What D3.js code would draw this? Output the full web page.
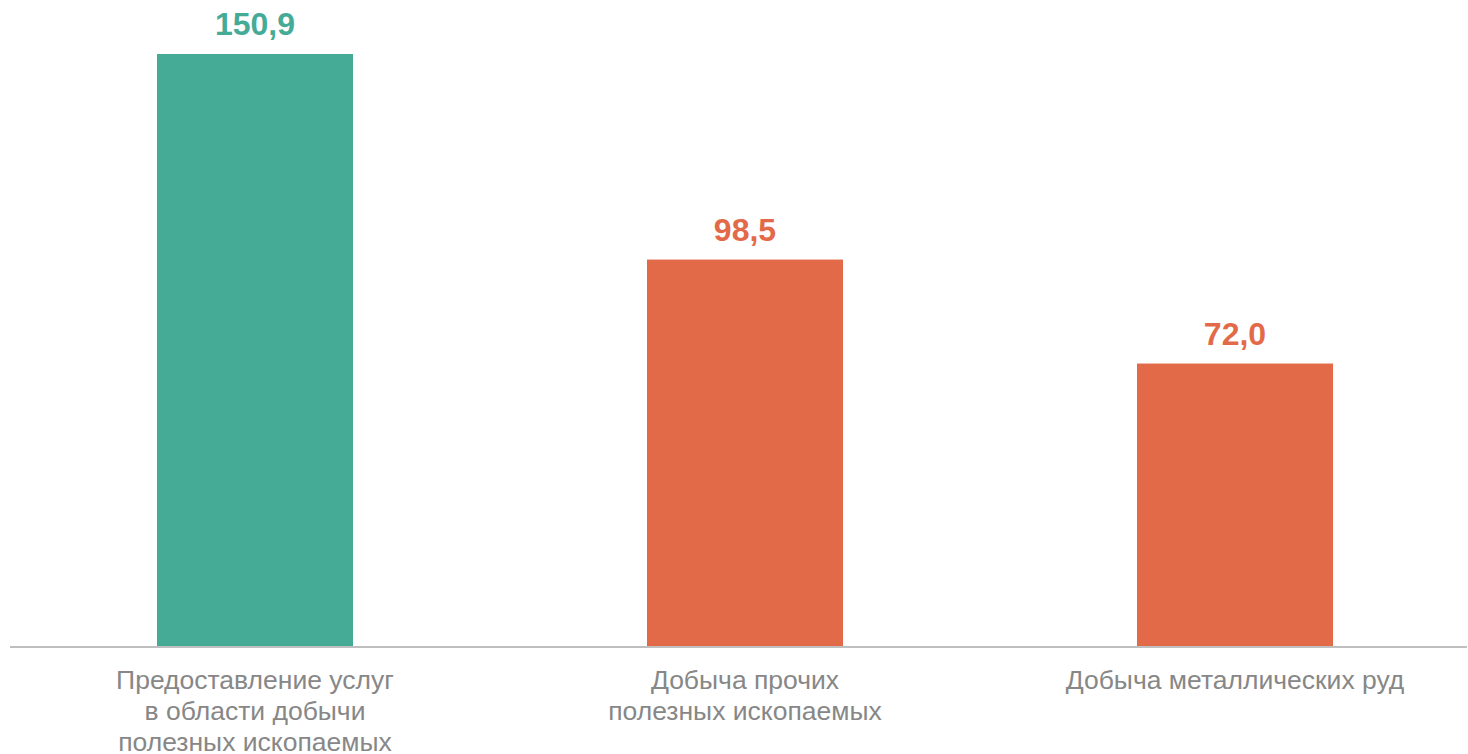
<!DOCTYPE html>
<html><head><meta charset="utf-8">
<script src="https://cdn.jsdelivr.net/npm/d3@7"></script>
<style>body{margin:0;background:#fff}svg{display:block}</style>
</head><body>
<svg id="c" width="1468" height="754"></svg>
<script>
const categories = [
  ["Предоставление услуг","в области добычи","полезных ископаемых"],
  ["Добыча прочих","полезных ископаемых"],
  ["Добыча металлических руд"]
];
const values = [150.9, 98.5, 72.0];
const barColors = ["#45AB97", "#E36A48", "#E36A48"];

const svg = d3.select("#c");
const baseY = 646;
const x = d3.scaleBand().domain(d3.range(values.length)).range([10, 1480]).paddingInner(0.6).paddingOuter(0.3);
const y = d3.scaleLinear().domain([0, 150.9]).range([baseY, 54]);

svg.selectAll("rect.bar").data(values).enter().append("rect")
  .attr("x", (d,i)=>x(i)).attr("width", x.bandwidth())
  .attr("y", d=>y(d)).attr("height", d=>baseY - y(d))
  .attr("fill", (d,i)=>barColors[i]);

svg.append("line").attr("x1",10).attr("x2",1467).attr("y1",baseY+1).attr("y2",baseY+1)
  .attr("stroke","#bfbfbf").attr("stroke-width",2);

const fmt = d => d3.format(".1f")(d).replace(".", ",");
svg.selectAll("text.val").data(values).enter().append("text")
  .attr("x",(d,i)=>x(i)+x.bandwidth()/2).attr("y",d=>y(d)-19)
  .attr("text-anchor","middle").attr("fill",(d,i)=>barColors[i])
  .style("font-family","'Liberation Sans', Arial, sans-serif").style("font-weight","bold").style("font-size","32px")
  .text(fmt);

const lab = svg.selectAll("text.cat").data(categories).enter().append("text")
  .attr("text-anchor","middle").attr("fill","#878787")
  .style("font-family","'Liberation Sans', Arial, sans-serif").style("font-size","26.5px");
lab.each(function(lines,i){
  d3.select(this).selectAll("tspan").data(lines).enter().append("tspan")
    .attr("x", x(i)+x.bandwidth()/2).attr("y",(d,j)=>689+j*31).text(d=>d);
});
</script>
</body></html>
